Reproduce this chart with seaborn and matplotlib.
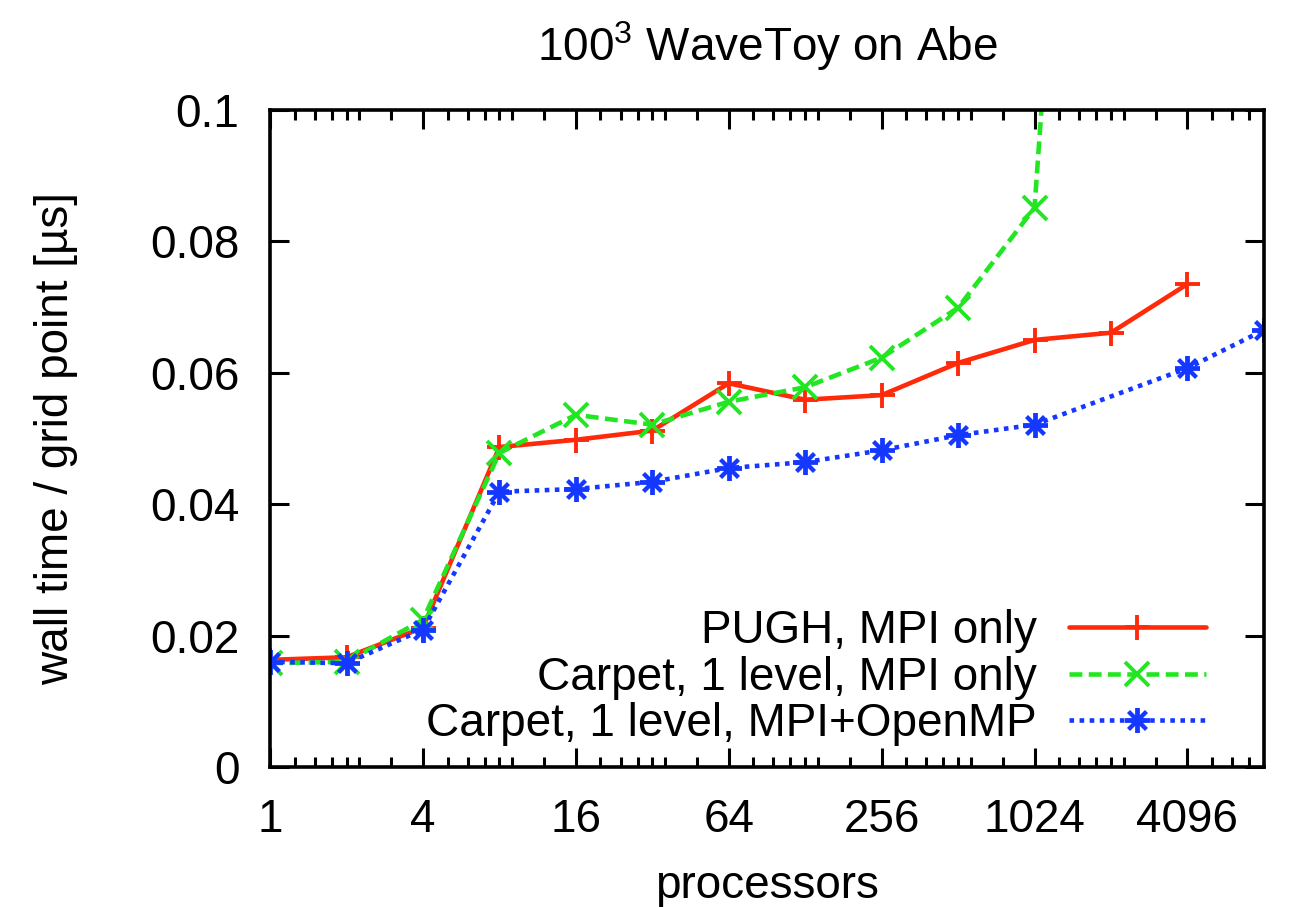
import numpy as np
import pandas as pd
import matplotlib
matplotlib.use("Agg")
import matplotlib.pyplot as plt
import seaborn as sns
from matplotlib.ticker import FixedLocator, NullFormatter

# data (processors -> wall time per grid point in us)
procs_pugh = [1, 2, 4, 8, 16, 32, 64, 128, 256, 512, 1024, 2048, 4096]
time_pugh = [0.0163, 0.0167, 0.0212, 0.0487, 0.0498, 0.0512, 0.0584, 0.0559,
             0.0566, 0.0615, 0.0650, 0.0661, 0.0735]

procs_carpet = [1, 2, 4, 8, 16, 32, 64, 128, 256, 512, 1024, 2048]
time_carpet = [0.0158, 0.0160, 0.0224, 0.0478, 0.0536, 0.0521, 0.0556, 0.0578,
               0.0623, 0.0699, 0.0851, 0.25]

procs_omp = [1, 2, 4, 8, 16, 32, 64, 128, 256, 512, 1024, 4096, 8192]
time_omp = [0.0160, 0.0158, 0.0209, 0.0419, 0.0423, 0.0434, 0.0455, 0.0464,
            0.0482, 0.0505, 0.0521, 0.0607, 0.0665]

major_x = [1, 4, 16, 64, 256, 1024, 4096]
major_y = [0, 0.02, 0.04, 0.06, 0.08, 0.1]

labels = ["PUGH, MPI only", "Carpet, 1 level, MPI only",
          "Carpet, 1 level, MPI+OpenMP"]
colors = ["#ff2a0a", "#22e622", "#1438ff"]

sns.set_style("ticks")
plt.rcParams['font.family'] = ['Liberation Sans', 'DejaVu Sans']
plt.rcParams['mathtext.fontset'] = 'custom'
plt.rcParams['mathtext.rm'] = 'Liberation Sans'
plt.rcParams['text.color'] = 'black'
plt.rcParams['axes.labelcolor'] = 'black'

FS = 33

fig = plt.figure(figsize=(12.94, 9.07), dpi=100)
ax = fig.add_axes([0.2087, 0.1544, 0.768, 0.7243])

df1 = pd.DataFrame({"procs": procs_pugh, "time": time_pugh})
df2 = pd.DataFrame({"procs": procs_carpet, "time": time_carpet})
df3 = pd.DataFrame({"procs": procs_omp, "time": time_omp})

sns.lineplot(data=df1, x="procs", y="time", ax=ax, color=colors[0],
             lw=3.3, marker="+", markersize=18, mew=2.8, mec=colors[0],
             label=labels[0], errorbar=None)
sns.lineplot(data=df2, x="procs", y="time", ax=ax, color=colors[1],
             lw=3.3, linestyle=(0, (2.8, 1.4)), marker="x", markersize=17,
             mew=2.8, mec=colors[1], label=labels[1], errorbar=None)
sns.lineplot(data=df3, x="procs", y="time", ax=ax, color=colors[2],
             lw=3.3, linestyle=(0, (1, 1.2)), marker=(8, 2, 0), markersize=18,
             mew=2.8, mec=colors[2], label=labels[2], errorbar=None)

ax.set_xscale("log", base=2)
ax.set_xlim(1, 8192)
ax.set_ylim(0, 0.1)

# gnuplot-like minor ticks
minor_x = set()
for a in major_x:
    for i in range(2, 10):
        for v in (a * i, a / 4 * i):
            if a < v < 4 * a and v < 8192:
                minor_x.add(v)
ax.xaxis.set_major_locator(FixedLocator(major_x))
ax.xaxis.set_minor_locator(FixedLocator(sorted(minor_x)))
ax.xaxis.set_minor_formatter(NullFormatter())
ax.set_xticks(major_x, [str(v) for v in major_x])
ax.set_yticks(major_y, ["0", "0.02", "0.04", "0.06", "0.08", "0.1"])
ax.yaxis.set_minor_locator(FixedLocator([]))

ax.tick_params(which="both", direction="in", top=True, right=True,
               width=2.2, colors="black", labelsize=FS)
ax.tick_params(which="major", length=14)
ax.tick_params(which="minor", length=7)
ax.tick_params(axis="x", pad=22)
ax.tick_params(axis="y", pad=22)
for s in ax.spines.values():
    s.set_linewidth(2.6)
    s.set_color("black")

ax.set_xlabel("processors", fontsize=FS, labelpad=16)
ax.set_ylabel("wall time / grid point [µs]", fontsize=FS, labelpad=52)
ax.set_title("100$^3$ WaveToy on Abe", fontsize=FS, pad=35)

leg = ax.legend(loc="lower right", bbox_to_anchor=(0.942, 0.032),
                frameon=False, markerfirst=False, fontsize=FS,
                handlelength=3.0, handletextpad=0.7, labelspacing=0.05,
                borderpad=0, borderaxespad=0)
leg._legend_box._children[-1]._children[0].align = "right"

fig.savefig("out.png", dpi=100)
